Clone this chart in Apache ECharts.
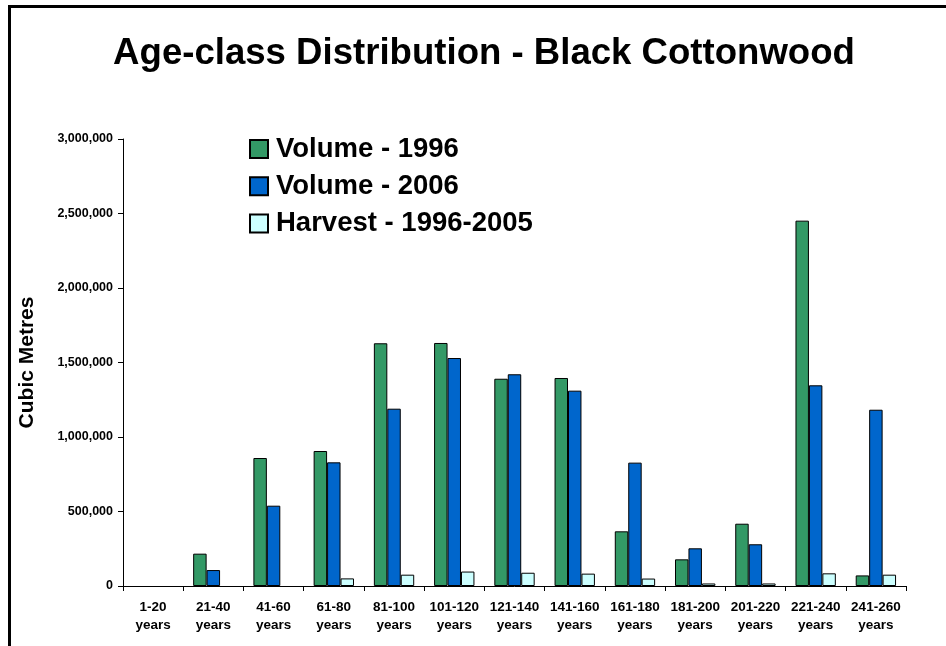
<!DOCTYPE html>
<html>
<head>
<meta charset="utf-8">
<script src="https://cdn.jsdelivr.net/npm/echarts@6/dist/echarts.min.js"></script>
<style>
  html, body { margin: 0; padding: 0; background: #ffffff; }
  #chart { width: 946px; height: 646px; }
</style>
</head>
<body>
<div id="chart"></div>
<script>
// Age classes (20-year bands) and volumes in cubic metres
const ageClasses = ['1-20', '21-40', '41-60', '61-80', '81-100', '101-120', '121-140',
                    '141-160', '161-180', '181-200', '201-220', '221-240', '241-260'];
const volume1996 = [0, 217000, 859000, 906000, 1629000, 1631000, 1391000,
                    1396000, 367000, 179000, 418000, 2452000, 71000];
const volume2006 = [0, 107000, 539000, 830000, 1190000, 1530000, 1421000,
                    1311000, 828000, 253000, 280000, 1347000, 1183000];
const harvest = [0, 0, 0, 51000, 76000, 97000, 89000,
                 83000, 50000, 17000, 17000, 85000, 76000];
const seriesNames = ['Volume - 1996', 'Volume - 2006', 'Harvest - 1996-2005'];
const yTicks = { min: 0, max: 3000000, interval: 500000 };

const FONT = 'Arial, "Liberation Sans", sans-serif';
const chart = echarts.init(document.getElementById('chart'), null, { renderer: 'canvas' });

// zero values are left empty so no outlined sliver sits on the axis
function barSeries(name, data, color) {
  return {
    name: name,
    type: 'bar',
    data: data.map(v => (v === 0 ? null : v)),
    barGap: '0%',
    barCategoryGap: '33%',
    itemStyle: { color: color, borderColor: '#000000', borderWidth: 1 },
    emphasis: { disabled: true },
    animation: false
  };
}

chart.setOption({
  backgroundColor: '#ffffff',
  animation: false,
  title: {
    text: 'Age-class Distribution - Black Cottonwood',
    left: 484,
    top: 35,
    padding: 0,
    textAlign: 'center',
    textStyle: { fontFamily: FONT, fontWeight: 'bold', fontSize: 36.6, color: '#000000' }
  },
  legend: {
    orient: 'vertical',
    left: 249,
    top: 135,
    padding: 0,
    itemWidth: 18,
    itemHeight: 18,
    itemGap: 9.3,
    icon: 'rect',
    selectedMode: false,
    textStyle: { fontFamily: FONT, fontWeight: 'bold', fontSize: 27.5, color: '#000000',
                 lineHeight: 28, padding: [0, 0, 0, 3] },
    data: seriesNames
  },
  grid: { left: 123, right: 40, top: 139, bottom: 60, containLabel: false },
  xAxis: {
    type: 'category',
    data: ageClasses,
    axisLine: { lineStyle: { color: '#000000', width: 1 } },
    axisTick: { show: true, length: 5, lineStyle: { color: '#000000' } },
    axisLabel: {
      interval: 0,
      margin: 12,
      fontFamily: FONT, fontWeight: 'bold', fontSize: 13.5, color: '#000000', lineHeight: 18,
      formatter: v => v + '\nyears'
    },
    splitLine: { show: false }
  },
  yAxis: {
    type: 'value',
    min: yTicks.min,
    max: yTicks.max,
    interval: yTicks.interval,
    name: 'Cubic Metres',
    nameLocation: 'middle',
    nameGap: 85,
    nameTextStyle: { fontFamily: FONT, fontWeight: 'bold', fontSize: 21, color: '#000000' },
    axisLine: { show: true, lineStyle: { color: '#000000', width: 1 } },
    axisTick: { show: true, length: 5, lineStyle: { color: '#000000' } },
    axisLabel: {
      margin: 10,
      fontFamily: FONT, fontWeight: 'bold', fontSize: 12.5, color: '#000000',
      formatter: v => v.toLocaleString('en-US')
    },
    splitLine: { show: false }
  },
  graphic: [{
    type: 'rect',
    silent: true,
    shape: { x: 9.5, y: 6.5, width: 1200, height: 1200 },
    style: { fill: null, stroke: '#000000', lineWidth: 3 }
  }],
  series: [
    barSeries(seriesNames[0], volume1996, '#339966'),
    barSeries(seriesNames[1], volume2006, '#0066CC'),
    barSeries(seriesNames[2], harvest, '#CCFFFF')
  ]
});
</script>
</body>
</html>
